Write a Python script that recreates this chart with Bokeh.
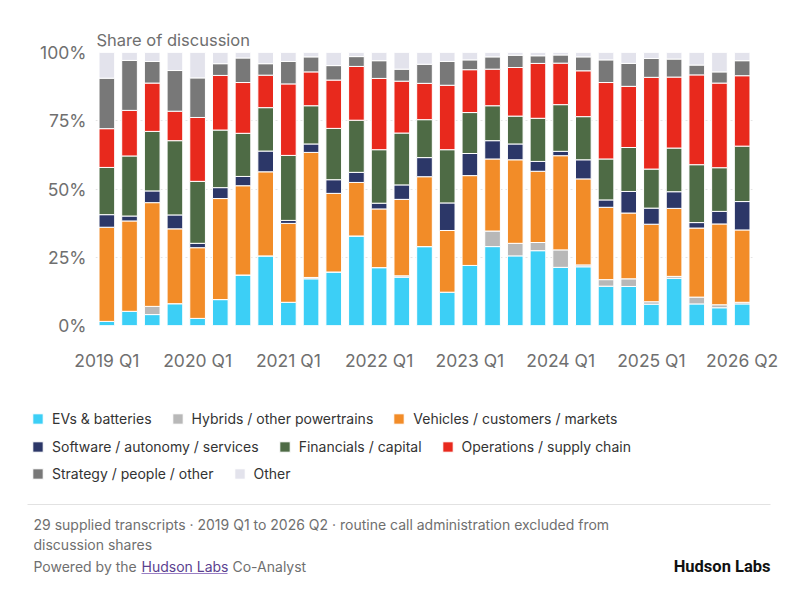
from bokeh.plotting import figure
from bokeh.layouts import column
from bokeh.models import (ColumnDataSource, Range1d, FixedTicker, Legend, LegendItem, Label)
from bokeh.embed import file_html
from bokeh.resources import INLINE

# ---------------- data ----------------
quarters = [
    "2019 Q1", "2019 Q2", "2019 Q3", "2019 Q4",
    "2020 Q1", "2020 Q2", "2020 Q3", "2020 Q4",
    "2021 Q1", "2021 Q2", "2021 Q3", "2021 Q4",
    "2022 Q1", "2022 Q2", "2022 Q3", "2022 Q4",
    "2023 Q1", "2023 Q2", "2023 Q3", "2023 Q4",
    "2024 Q1", "2024 Q2", "2024 Q3", "2024 Q4",
    "2025 Q1", "2025 Q2", "2025 Q3", "2026 Q1", "2026 Q2",
]

evs = [1.5, 5.2, 4.0, 8.0, 2.6, 9.5, 18.5, 25.5, 8.5, 17.1, 19.6, 32.8, 21.2, 17.7, 28.9,
       12.2, 22.0, 28.9, 25.5, 27.4, 21.3, 21.5, 14.4, 14.3, 7.8, 17.3, 7.9, 6.5, 7.9]
hybrids = [0.0, 0.0, 3.0, 0.0, 0.0, 0.0, 0.0, 0.0, 0.0, 0.5, 0.0, 0.0, 0.0, 0.5, 0.0,
           0.0, 0.0, 5.7, 4.6, 3.0, 6.4, 0.7, 2.4, 2.8, 0.9, 0.7, 2.5, 1.1, 0.6]
vehicles = [34.5, 33.1, 38.0, 27.4, 25.9, 37.0, 32.7, 30.8, 28.9, 45.8, 28.8, 19.6, 21.5, 28.0, 25.6,
            22.6, 32.9, 26.4, 30.6, 26.1, 34.5, 31.5, 26.5, 24.1, 28.4, 24.9, 25.3, 29.6, 26.5]
software = [4.6, 1.8, 4.3, 5.1, 1.6, 4.0, 3.4, 7.6, 1.1, 3.1, 5.0, 3.7, 2.1, 5.3, 7.0,
            10.1, 8.1, 6.7, 5.8, 3.6, 1.6, 7.0, 2.7, 7.9, 5.9, 6.1, 2.0, 4.6, 10.4]
financials = [17.3, 22.0, 21.8, 27.2, 22.7, 21.1, 15.8, 15.9, 23.8, 14.0, 18.8, 19.1, 19.6, 19.0, 13.9,
              19.5, 15.0, 12.8, 10.2, 15.8, 17.1, 15.8, 15.0, 16.1, 14.3, 16.0, 21.2, 16.0, 20.3]
operations = [14.2, 16.7, 17.7, 10.8, 23.4, 20.0, 18.6, 11.9, 26.2, 12.4, 17.7, 19.7, 26.1, 19.0, 13.3,
              23.6, 15.7, 13.4, 17.8, 20.1, 15.2, 16.8, 28.0, 22.4, 33.6, 26.0, 32.9, 31.0, 25.8]
strategy = [18.5, 18.3, 7.9, 14.9, 14.5, 4.3, 9.0, 4.2, 8.2, 5.5, 5.3, 3.6, 6.5, 4.4, 7.0,
            8.7, 3.6, 4.5, 4.5, 2.8, 3.0, 5.1, 8.3, 8.4, 6.9, 6.6, 3.6, 4.1, 5.5]
other = [9.4, 2.9, 3.3, 6.6, 9.3, 4.1, 2.0, 4.1, 3.3, 1.6, 4.8, 1.5, 3.0, 6.1, 4.3,
         3.3, 2.7, 1.6, 1.0, 1.2, 0.9, 1.6, 2.7, 4.0, 2.2, 2.4, 4.6, 7.1, 3.0]

series_names = [
    "EVs & batteries", "Hybrids / other powertrains", "Vehicles / customers / markets",
    "Software / autonomy / services", "Financials / capital", "Operations / supply chain",
    "Strategy / people / other", "Other",
]
series_colors = ["#3ccff6", "#b8b8b8", "#f28c28", "#2c3768", "#4e6b45", "#e8291d", "#787878", "#e3e3ec"]

y_ticks = [0, 25, 50, 75, 100]
y_tick_labels = ["0%", "25%", "50%", "75%", "100%"]

title_text = "Share of discussion"
footer_line1 = "29 supplied transcripts \u00b7 2019 Q1 to 2026 Q2 \u00b7 routine call administration excluded from"
footer_line2 = "discussion shares"
footer_powered = "Powered by the"
footer_link = "Hudson Labs"
footer_tail = "Co-Analyst"
brand = "Hudson Labs"

FONT = "Inter"
W = 790

# ---------------- chart ----------------
keys = ["evs", "hybrids", "vehicles", "software", "financials", "operations", "strategy", "other"]
source = ColumnDataSource(dict(
    x=list(range(len(quarters))), quarter=quarters,
    evs=evs, hybrids=hybrids, vehicles=vehicles, software=software,
    financials=financials, operations=operations, strategy=strategy, other=other,
))

p = figure(width=W, height=390, output_backend="svg", toolbar_location=None,
           x_range=Range1d(-0.5, len(quarters) - 0.5), y_range=Range1d(0, 100),
           min_border_left=95, min_border_right=37, min_border_top=52, min_border_bottom=65)
p.frame_align = False
p.outline_line_color = None
p.background_fill_color = "white"
p.border_fill_color = "white"

renderers = p.vbar_stack(keys, x="x", width=0.69, color=series_colors,
                         line_color="white", line_width=1, source=source)

p.title.text = title_text
p.title.text_font = FONT
p.title.text_font_size = "16.5px"
p.title.text_font_style = "normal"
p.title.text_color = "#6f6f6f"
p.title.standoff = 5
p.title.offset = 1

p.xaxis.ticker = FixedTicker(ticks=list(range(0, len(quarters), 4)))
p.xaxis.major_label_overrides = {i: quarters[i] for i in range(0, len(quarters), 4)}
p.yaxis.ticker = FixedTicker(ticks=y_ticks)
p.yaxis.major_label_overrides = dict(zip(y_ticks, y_tick_labels))
for ax in (p.xaxis[0], p.yaxis[0]):
    ax.axis_line_color = None
    ax.major_tick_line_color = None
    ax.minor_tick_line_color = None
    ax.major_tick_out = 0
    ax.major_tick_in = 0
    ax.major_label_text_font = FONT
    ax.major_label_text_font_size = "17.5px"
    ax.major_label_text_color = "#6f6f6f"
p.xaxis.major_label_standoff = 24
p.yaxis.major_label_standoff = 9

p.xgrid.grid_line_color = None
p.ygrid.grid_line_color = "#e4e4e4"
p.ygrid.grid_line_dash = "2 3"

# ---------------- legend + footer panel (pixel-like data units) ----------------
H2 = 205
q = figure(width=W, height=H2, output_backend="svg", toolbar_location=None,
           x_range=Range1d(0, W), y_range=Range1d(H2, 0),
           x_axis_location=None, y_axis_location=None, min_border=0)
q.frame_align = False
q.outline_line_color = None
q.xgrid.visible = False
q.ygrid.visible = False

# zero-height proxy bars that only carry each series' style into the legend
proxy = ColumnDataSource(dict(x=[0], top=[0], bottom=[0]))
swatches = [q.vbar(x="x", top="top", bottom="bottom", width=0, source=proxy,
                   fill_color=c, line_color="white", line_width=1)
            for c in series_colors]

rows = [[0, 1, 2], [3, 4, 5], [6, 7]]
row_tops = [18, 46, 73]
for idxs, top in zip(rows, row_tops):
    leg = Legend(items=[LegendItem(label=series_names[i], renderers=[swatches[i]]) for i in idxs],
                 location=(31, H2 - top - 20), orientation="horizontal",
                 border_line_color=None, background_fill_alpha=0,
                 padding=0, margin=0, spacing=19, label_standoff=8,
                 glyph_width=13, glyph_height=13, label_height=20,
                 label_text_font=FONT, label_text_font_size="14px", label_text_color="#333333")
    q.add_layout(leg, "center")

q.segment(x0=[27], x1=[770], y0=[114], y1=[114], line_color="#e2e2e2", line_width=1)

def note(x, y, text, color="#6f6f6f", size="14px", font=FONT, style="normal", align="left"):
    q.add_layout(Label(x=x, y=y, text=text, text_font=font, text_font_size=size,
                       text_color=color, text_font_style=style, text_align=align,
                       text_baseline="middle"))

note(33, 134, footer_line1)
note(33, 154, footer_line2)
note(33, 176, footer_powered)
note(141, 176, footer_link, color="#5b3f8f")
note(232, 176, footer_tail)
q.segment(x0=[141], x1=[227], y0=[183], y1=[183], line_color="#9a7fc4", line_width=1.2)
note(770, 176, brand, color="#111111", size="16.5px", font="Roboto", style="bold", align="right")

layout = column(p, q, spacing=0)
open("out.html", "w").write(file_html(layout, INLINE))
